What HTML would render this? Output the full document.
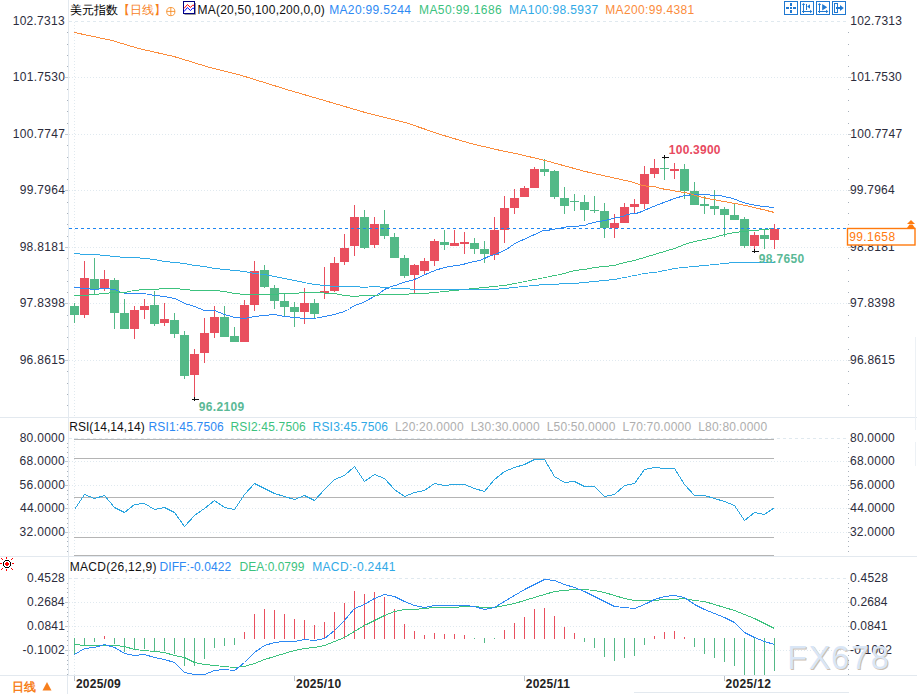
<!DOCTYPE html><html><head><meta charset="utf-8"><style>
html,body{margin:0;padding:0;background:#fff;width:917px;height:694px;overflow:hidden}
svg{display:block;font-family:"Liberation Sans",sans-serif}
</style></head><body>
<svg width="917" height="694" viewBox="0 0 917 694">
<rect width="917" height="694" fill="#fff"/>
<line x1="69" y1="21.5" x2="848" y2="21.5" stroke="#e0e9ef" stroke-width="1" stroke-dasharray="3 3" shape-rendering="crispEdges"/>
<line x1="69" y1="77.5" x2="848" y2="77.5" stroke="#e0e9ef" stroke-width="1" stroke-dasharray="1 2" shape-rendering="crispEdges"/>
<line x1="69" y1="134.5" x2="848" y2="134.5" stroke="#e0e9ef" stroke-width="1" stroke-dasharray="1 2" shape-rendering="crispEdges"/>
<line x1="69" y1="190.5" x2="848" y2="190.5" stroke="#e0e9ef" stroke-width="1" stroke-dasharray="1 2" shape-rendering="crispEdges"/>
<line x1="69" y1="247.5" x2="848" y2="247.5" stroke="#e0e9ef" stroke-width="1" stroke-dasharray="1 2" shape-rendering="crispEdges"/>
<line x1="69" y1="303.5" x2="848" y2="303.5" stroke="#e0e9ef" stroke-width="1" stroke-dasharray="1 2" shape-rendering="crispEdges"/>
<line x1="69" y1="360.5" x2="848" y2="360.5" stroke="#e0e9ef" stroke-width="1" stroke-dasharray="1 2" shape-rendering="crispEdges"/>
<line x1="74.5" y1="22" x2="74.5" y2="416" stroke="#e0e9ef" stroke-width="1" stroke-dasharray="1 2" shape-rendering="crispEdges"/>
<line x1="74.5" y1="438" x2="74.5" y2="555" stroke="#e0e9ef" stroke-width="1" stroke-dasharray="1 2" shape-rendering="crispEdges"/>
<line x1="74.5" y1="578" x2="74.5" y2="675" stroke="#e0e9ef" stroke-width="1" stroke-dasharray="1 2" shape-rendering="crispEdges"/>
<line x1="69" y1="438.5" x2="848" y2="438.5" stroke="#e0e9ef" stroke-width="1" stroke-dasharray="3 3" shape-rendering="crispEdges"/>
<line x1="69" y1="461.5" x2="848" y2="461.5" stroke="#e0e9ef" stroke-width="1" stroke-dasharray="1 2" shape-rendering="crispEdges"/>
<line x1="69" y1="485.5" x2="848" y2="485.5" stroke="#e0e9ef" stroke-width="1" stroke-dasharray="1 2" shape-rendering="crispEdges"/>
<line x1="69" y1="508.5" x2="848" y2="508.5" stroke="#e0e9ef" stroke-width="1" stroke-dasharray="1 2" shape-rendering="crispEdges"/>
<line x1="69" y1="532.5" x2="848" y2="532.5" stroke="#e0e9ef" stroke-width="1" stroke-dasharray="1 2" shape-rendering="crispEdges"/>
<line x1="69" y1="578.5" x2="848" y2="578.5" stroke="#e0e9ef" stroke-width="1" stroke-dasharray="3 3" shape-rendering="crispEdges"/>
<line x1="69" y1="602.5" x2="848" y2="602.5" stroke="#e0e9ef" stroke-width="1" stroke-dasharray="1 2" shape-rendering="crispEdges"/>
<line x1="69" y1="626.5" x2="848" y2="626.5" stroke="#e0e9ef" stroke-width="1" stroke-dasharray="1 2" shape-rendering="crispEdges"/>
<line x1="69" y1="650.5" x2="848" y2="650.5" stroke="#e0e9ef" stroke-width="1" stroke-dasharray="1 2" shape-rendering="crispEdges"/>
<rect x="0" y="417" width="917" height="1" fill="#e3e9ef" shape-rendering="crispEdges"/>
<rect x="0" y="556" width="917" height="1" fill="#e3e9ef" shape-rendering="crispEdges"/>
<rect x="0" y="675" width="917" height="1" fill="#e3e9ef" shape-rendering="crispEdges"/>
<rect x="634" y="692" width="215" height="1" fill="#e3e9ef" shape-rendering="crispEdges"/>
<rect x="68" y="0" width="1" height="675" fill="#e3e9ef" shape-rendering="crispEdges"/>
<rect x="67" y="675" width="1" height="19" fill="#e3e9ef" shape-rendering="crispEdges"/>
<rect x="915" y="337" width="1" height="93" fill="#edf1f5" shape-rendering="crispEdges"/>
<rect x="915" y="442" width="1" height="24" fill="#edf1f5" shape-rendering="crispEdges"/>
<rect x="67" y="32" width="1" height="1" fill="#a9b1bb"/>
<rect x="848" y="32" width="1" height="1" fill="#a9b1bb"/>
<rect x="67" y="44" width="1" height="1" fill="#a9b1bb"/>
<rect x="848" y="44" width="1" height="1" fill="#a9b1bb"/>
<rect x="67" y="55" width="1" height="1" fill="#a9b1bb"/>
<rect x="848" y="55" width="1" height="1" fill="#a9b1bb"/>
<rect x="67" y="66" width="1" height="1" fill="#a9b1bb"/>
<rect x="848" y="66" width="1" height="1" fill="#a9b1bb"/>
<rect x="67" y="89" width="1" height="1" fill="#a9b1bb"/>
<rect x="848" y="89" width="1" height="1" fill="#a9b1bb"/>
<rect x="67" y="100" width="1" height="1" fill="#a9b1bb"/>
<rect x="848" y="100" width="1" height="1" fill="#a9b1bb"/>
<rect x="67" y="111" width="1" height="1" fill="#a9b1bb"/>
<rect x="848" y="111" width="1" height="1" fill="#a9b1bb"/>
<rect x="67" y="123" width="1" height="1" fill="#a9b1bb"/>
<rect x="848" y="123" width="1" height="1" fill="#a9b1bb"/>
<rect x="67" y="145" width="1" height="1" fill="#a9b1bb"/>
<rect x="848" y="145" width="1" height="1" fill="#a9b1bb"/>
<rect x="67" y="157" width="1" height="1" fill="#a9b1bb"/>
<rect x="848" y="157" width="1" height="1" fill="#a9b1bb"/>
<rect x="67" y="168" width="1" height="1" fill="#a9b1bb"/>
<rect x="848" y="168" width="1" height="1" fill="#a9b1bb"/>
<rect x="67" y="179" width="1" height="1" fill="#a9b1bb"/>
<rect x="848" y="179" width="1" height="1" fill="#a9b1bb"/>
<rect x="67" y="202" width="1" height="1" fill="#a9b1bb"/>
<rect x="848" y="202" width="1" height="1" fill="#a9b1bb"/>
<rect x="67" y="213" width="1" height="1" fill="#a9b1bb"/>
<rect x="848" y="213" width="1" height="1" fill="#a9b1bb"/>
<rect x="67" y="224" width="1" height="1" fill="#a9b1bb"/>
<rect x="848" y="224" width="1" height="1" fill="#a9b1bb"/>
<rect x="67" y="236" width="1" height="1" fill="#a9b1bb"/>
<rect x="848" y="236" width="1" height="1" fill="#a9b1bb"/>
<rect x="67" y="258" width="1" height="1" fill="#a9b1bb"/>
<rect x="848" y="258" width="1" height="1" fill="#a9b1bb"/>
<rect x="67" y="270" width="1" height="1" fill="#a9b1bb"/>
<rect x="848" y="270" width="1" height="1" fill="#a9b1bb"/>
<rect x="67" y="281" width="1" height="1" fill="#a9b1bb"/>
<rect x="848" y="281" width="1" height="1" fill="#a9b1bb"/>
<rect x="67" y="292" width="1" height="1" fill="#a9b1bb"/>
<rect x="848" y="292" width="1" height="1" fill="#a9b1bb"/>
<rect x="67" y="315" width="1" height="1" fill="#a9b1bb"/>
<rect x="848" y="315" width="1" height="1" fill="#a9b1bb"/>
<rect x="67" y="326" width="1" height="1" fill="#a9b1bb"/>
<rect x="848" y="326" width="1" height="1" fill="#a9b1bb"/>
<rect x="67" y="337" width="1" height="1" fill="#a9b1bb"/>
<rect x="848" y="337" width="1" height="1" fill="#a9b1bb"/>
<rect x="67" y="349" width="1" height="1" fill="#a9b1bb"/>
<rect x="848" y="349" width="1" height="1" fill="#a9b1bb"/>
<rect x="67" y="371" width="1" height="1" fill="#a9b1bb"/>
<rect x="848" y="371" width="1" height="1" fill="#a9b1bb"/>
<rect x="67" y="383" width="1" height="1" fill="#a9b1bb"/>
<rect x="848" y="383" width="1" height="1" fill="#a9b1bb"/>
<rect x="67" y="394" width="1" height="1" fill="#a9b1bb"/>
<rect x="848" y="394" width="1" height="1" fill="#a9b1bb"/>
<rect x="67" y="405" width="1" height="1" fill="#a9b1bb"/>
<rect x="848" y="405" width="1" height="1" fill="#a9b1bb"/>
<rect x="65" y="77" width="3" height="1" fill="#c4cad0"/>
<rect x="848" y="77" width="3" height="1" fill="#c4cad0"/>
<rect x="65" y="134" width="3" height="1" fill="#c4cad0"/>
<rect x="848" y="134" width="3" height="1" fill="#c4cad0"/>
<rect x="65" y="190" width="3" height="1" fill="#c4cad0"/>
<rect x="848" y="190" width="3" height="1" fill="#c4cad0"/>
<rect x="65" y="247" width="3" height="1" fill="#c4cad0"/>
<rect x="848" y="247" width="3" height="1" fill="#c4cad0"/>
<rect x="65" y="303" width="3" height="1" fill="#c4cad0"/>
<rect x="848" y="303" width="3" height="1" fill="#c4cad0"/>
<rect x="65" y="360" width="3" height="1" fill="#c4cad0"/>
<rect x="848" y="360" width="3" height="1" fill="#c4cad0"/>
<rect x="67" y="443" width="1" height="1" fill="#a9b1bb"/>
<rect x="848" y="443" width="1" height="1" fill="#a9b1bb"/>
<rect x="67" y="447" width="1" height="1" fill="#a9b1bb"/>
<rect x="848" y="447" width="1" height="1" fill="#a9b1bb"/>
<rect x="67" y="452" width="1" height="1" fill="#a9b1bb"/>
<rect x="848" y="452" width="1" height="1" fill="#a9b1bb"/>
<rect x="67" y="457" width="1" height="1" fill="#a9b1bb"/>
<rect x="848" y="457" width="1" height="1" fill="#a9b1bb"/>
<rect x="67" y="466" width="1" height="1" fill="#a9b1bb"/>
<rect x="848" y="466" width="1" height="1" fill="#a9b1bb"/>
<rect x="67" y="471" width="1" height="1" fill="#a9b1bb"/>
<rect x="848" y="471" width="1" height="1" fill="#a9b1bb"/>
<rect x="67" y="476" width="1" height="1" fill="#a9b1bb"/>
<rect x="848" y="476" width="1" height="1" fill="#a9b1bb"/>
<rect x="67" y="480" width="1" height="1" fill="#a9b1bb"/>
<rect x="848" y="480" width="1" height="1" fill="#a9b1bb"/>
<rect x="67" y="490" width="1" height="1" fill="#a9b1bb"/>
<rect x="848" y="490" width="1" height="1" fill="#a9b1bb"/>
<rect x="67" y="494" width="1" height="1" fill="#a9b1bb"/>
<rect x="848" y="494" width="1" height="1" fill="#a9b1bb"/>
<rect x="67" y="499" width="1" height="1" fill="#a9b1bb"/>
<rect x="848" y="499" width="1" height="1" fill="#a9b1bb"/>
<rect x="67" y="504" width="1" height="1" fill="#a9b1bb"/>
<rect x="848" y="504" width="1" height="1" fill="#a9b1bb"/>
<rect x="67" y="513" width="1" height="1" fill="#a9b1bb"/>
<rect x="848" y="513" width="1" height="1" fill="#a9b1bb"/>
<rect x="67" y="518" width="1" height="1" fill="#a9b1bb"/>
<rect x="848" y="518" width="1" height="1" fill="#a9b1bb"/>
<rect x="67" y="523" width="1" height="1" fill="#a9b1bb"/>
<rect x="848" y="523" width="1" height="1" fill="#a9b1bb"/>
<rect x="67" y="527" width="1" height="1" fill="#a9b1bb"/>
<rect x="848" y="527" width="1" height="1" fill="#a9b1bb"/>
<rect x="67" y="537" width="1" height="1" fill="#a9b1bb"/>
<rect x="848" y="537" width="1" height="1" fill="#a9b1bb"/>
<rect x="67" y="541" width="1" height="1" fill="#a9b1bb"/>
<rect x="848" y="541" width="1" height="1" fill="#a9b1bb"/>
<rect x="67" y="546" width="1" height="1" fill="#a9b1bb"/>
<rect x="848" y="546" width="1" height="1" fill="#a9b1bb"/>
<rect x="67" y="551" width="1" height="1" fill="#a9b1bb"/>
<rect x="848" y="551" width="1" height="1" fill="#a9b1bb"/>
<rect x="65" y="461" width="3" height="1" fill="#c4cad0"/>
<rect x="848" y="461" width="3" height="1" fill="#c4cad0"/>
<rect x="65" y="485" width="3" height="1" fill="#c4cad0"/>
<rect x="848" y="485" width="3" height="1" fill="#c4cad0"/>
<rect x="65" y="508" width="3" height="1" fill="#c4cad0"/>
<rect x="848" y="508" width="3" height="1" fill="#c4cad0"/>
<rect x="65" y="532" width="3" height="1" fill="#c4cad0"/>
<rect x="848" y="532" width="3" height="1" fill="#c4cad0"/>
<rect x="67" y="583" width="1" height="1" fill="#a9b1bb"/>
<rect x="848" y="583" width="1" height="1" fill="#a9b1bb"/>
<rect x="67" y="588" width="1" height="1" fill="#a9b1bb"/>
<rect x="848" y="588" width="1" height="1" fill="#a9b1bb"/>
<rect x="67" y="592" width="1" height="1" fill="#a9b1bb"/>
<rect x="848" y="592" width="1" height="1" fill="#a9b1bb"/>
<rect x="67" y="597" width="1" height="1" fill="#a9b1bb"/>
<rect x="848" y="597" width="1" height="1" fill="#a9b1bb"/>
<rect x="67" y="607" width="1" height="1" fill="#a9b1bb"/>
<rect x="848" y="607" width="1" height="1" fill="#a9b1bb"/>
<rect x="67" y="612" width="1" height="1" fill="#a9b1bb"/>
<rect x="848" y="612" width="1" height="1" fill="#a9b1bb"/>
<rect x="67" y="616" width="1" height="1" fill="#a9b1bb"/>
<rect x="848" y="616" width="1" height="1" fill="#a9b1bb"/>
<rect x="67" y="621" width="1" height="1" fill="#a9b1bb"/>
<rect x="848" y="621" width="1" height="1" fill="#a9b1bb"/>
<rect x="67" y="631" width="1" height="1" fill="#a9b1bb"/>
<rect x="848" y="631" width="1" height="1" fill="#a9b1bb"/>
<rect x="67" y="636" width="1" height="1" fill="#a9b1bb"/>
<rect x="848" y="636" width="1" height="1" fill="#a9b1bb"/>
<rect x="67" y="640" width="1" height="1" fill="#a9b1bb"/>
<rect x="848" y="640" width="1" height="1" fill="#a9b1bb"/>
<rect x="67" y="645" width="1" height="1" fill="#a9b1bb"/>
<rect x="848" y="645" width="1" height="1" fill="#a9b1bb"/>
<rect x="67" y="655" width="1" height="1" fill="#a9b1bb"/>
<rect x="848" y="655" width="1" height="1" fill="#a9b1bb"/>
<rect x="67" y="660" width="1" height="1" fill="#a9b1bb"/>
<rect x="848" y="660" width="1" height="1" fill="#a9b1bb"/>
<rect x="67" y="664" width="1" height="1" fill="#a9b1bb"/>
<rect x="848" y="664" width="1" height="1" fill="#a9b1bb"/>
<rect x="67" y="669" width="1" height="1" fill="#a9b1bb"/>
<rect x="848" y="669" width="1" height="1" fill="#a9b1bb"/>
<rect x="67" y="674" width="1" height="1" fill="#a9b1bb"/>
<rect x="848" y="674" width="1" height="1" fill="#a9b1bb"/>
<rect x="65" y="602" width="3" height="1" fill="#c4cad0"/>
<rect x="848" y="602" width="3" height="1" fill="#c4cad0"/>
<rect x="65" y="626" width="3" height="1" fill="#c4cad0"/>
<rect x="848" y="626" width="3" height="1" fill="#c4cad0"/>
<rect x="65" y="650" width="3" height="1" fill="#c4cad0"/>
<rect x="848" y="650" width="3" height="1" fill="#c4cad0"/>
<rect x="74" y="439" width="700" height="1" fill="#b4b4b4" shape-rendering="crispEdges"/>
<rect x="74" y="458" width="700" height="1" fill="#b4b4b4" shape-rendering="crispEdges"/>
<rect x="74" y="497" width="700" height="1" fill="#b4b4b4" shape-rendering="crispEdges"/>
<rect x="74" y="537" width="700" height="1" fill="#b4b4b4" shape-rendering="crispEdges"/>
<rect x="74" y="555" width="700" height="1" fill="#b4b4b4" shape-rendering="crispEdges"/>
<g shape-rendering="crispEdges">
<rect x="74" y="303" width="1" height="20" fill="#53b987"/>
<rect x="70" y="306" width="9" height="9" fill="#53b987"/>
<rect x="84" y="261" width="1" height="57" fill="#e94f5e"/>
<rect x="80" y="278" width="9" height="37" fill="#e94f5e"/>
<rect x="94" y="258" width="1" height="36" fill="#53b987"/>
<rect x="90" y="279" width="9" height="10" fill="#53b987"/>
<rect x="104" y="270" width="1" height="21" fill="#e94f5e"/>
<rect x="100" y="279" width="9" height="9" fill="#e94f5e"/>
<rect x="114" y="278" width="1" height="51" fill="#53b987"/>
<rect x="110" y="280" width="9" height="33" fill="#53b987"/>
<rect x="124" y="299" width="1" height="30" fill="#53b987"/>
<rect x="120" y="313" width="9" height="16" fill="#53b987"/>
<rect x="134" y="306" width="1" height="33" fill="#e94f5e"/>
<rect x="130" y="310" width="9" height="19" fill="#e94f5e"/>
<rect x="144" y="299" width="1" height="20" fill="#e94f5e"/>
<rect x="140" y="306" width="9" height="4" fill="#e94f5e"/>
<rect x="154" y="291" width="1" height="35" fill="#53b987"/>
<rect x="150" y="305" width="9" height="19" fill="#53b987"/>
<rect x="164" y="303" width="1" height="23" fill="#e94f5e"/>
<rect x="160" y="319" width="9" height="4" fill="#e94f5e"/>
<rect x="174" y="313" width="1" height="25" fill="#53b987"/>
<rect x="170" y="320" width="9" height="14" fill="#53b987"/>
<rect x="184" y="331" width="1" height="48" fill="#53b987"/>
<rect x="180" y="335" width="9" height="41" fill="#53b987"/>
<rect x="194" y="349" width="1" height="48" fill="#e94f5e"/>
<rect x="190" y="354" width="9" height="21" fill="#e94f5e"/>
<rect x="204" y="318" width="1" height="45" fill="#e94f5e"/>
<rect x="200" y="333" width="9" height="20" fill="#e94f5e"/>
<rect x="214" y="306" width="1" height="32" fill="#e94f5e"/>
<rect x="210" y="317" width="9" height="16" fill="#e94f5e"/>
<rect x="224" y="306" width="1" height="31" fill="#53b987"/>
<rect x="220" y="317" width="9" height="20" fill="#53b987"/>
<rect x="234" y="327" width="1" height="15" fill="#53b987"/>
<rect x="230" y="336" width="9" height="6" fill="#53b987"/>
<rect x="244" y="300" width="1" height="42" fill="#e94f5e"/>
<rect x="240" y="305" width="9" height="37" fill="#e94f5e"/>
<rect x="254" y="261" width="1" height="50" fill="#e94f5e"/>
<rect x="250" y="271" width="9" height="34" fill="#e94f5e"/>
<rect x="264" y="265" width="1" height="23" fill="#53b987"/>
<rect x="260" y="270" width="9" height="17" fill="#53b987"/>
<rect x="274" y="285" width="1" height="24" fill="#53b987"/>
<rect x="270" y="288" width="9" height="13" fill="#53b987"/>
<rect x="284" y="293" width="1" height="24" fill="#53b987"/>
<rect x="280" y="301" width="9" height="6" fill="#53b987"/>
<rect x="294" y="302" width="1" height="25" fill="#53b987"/>
<rect x="290" y="307" width="9" height="5" fill="#53b987"/>
<rect x="304" y="288" width="1" height="36" fill="#e94f5e"/>
<rect x="300" y="303" width="9" height="9" fill="#e94f5e"/>
<rect x="314" y="299" width="1" height="19" fill="#53b987"/>
<rect x="310" y="303" width="9" height="11" fill="#53b987"/>
<rect x="324" y="267" width="1" height="32" fill="#e94f5e"/>
<rect x="320" y="291" width="9" height="2" fill="#e94f5e"/>
<rect x="334" y="257" width="1" height="35" fill="#e94f5e"/>
<rect x="330" y="263" width="9" height="28" fill="#e94f5e"/>
<rect x="344" y="234" width="1" height="31" fill="#e94f5e"/>
<rect x="340" y="248" width="9" height="14" fill="#e94f5e"/>
<rect x="354" y="205" width="1" height="51" fill="#e94f5e"/>
<rect x="350" y="217" width="9" height="29" fill="#e94f5e"/>
<rect x="364" y="210" width="1" height="39" fill="#53b987"/>
<rect x="360" y="217" width="9" height="31" fill="#53b987"/>
<rect x="374" y="217" width="1" height="31" fill="#e94f5e"/>
<rect x="370" y="224" width="9" height="21" fill="#e94f5e"/>
<rect x="384" y="210" width="1" height="29" fill="#53b987"/>
<rect x="380" y="224" width="9" height="12" fill="#53b987"/>
<rect x="394" y="233" width="1" height="25" fill="#53b987"/>
<rect x="390" y="237" width="9" height="21" fill="#53b987"/>
<rect x="404" y="255" width="1" height="23" fill="#53b987"/>
<rect x="400" y="258" width="9" height="18" fill="#53b987"/>
<rect x="414" y="264" width="1" height="29" fill="#e94f5e"/>
<rect x="410" y="265" width="9" height="10" fill="#e94f5e"/>
<rect x="424" y="258" width="1" height="16" fill="#e94f5e"/>
<rect x="420" y="261" width="9" height="10" fill="#e94f5e"/>
<rect x="434" y="239" width="1" height="27" fill="#e94f5e"/>
<rect x="430" y="241" width="9" height="20" fill="#e94f5e"/>
<rect x="444" y="230" width="1" height="20" fill="#53b987"/>
<rect x="440" y="242" width="9" height="3" fill="#53b987"/>
<rect x="454" y="230" width="1" height="16" fill="#e94f5e"/>
<rect x="450" y="243" width="9" height="3" fill="#e94f5e"/>
<rect x="464" y="232" width="1" height="22" fill="#e94f5e"/>
<rect x="460" y="242" width="9" height="2" fill="#e94f5e"/>
<rect x="474" y="238" width="1" height="16" fill="#53b987"/>
<rect x="470" y="243" width="9" height="6" fill="#53b987"/>
<rect x="484" y="241" width="1" height="22" fill="#53b987"/>
<rect x="480" y="249" width="9" height="5" fill="#53b987"/>
<rect x="494" y="217" width="1" height="43" fill="#e94f5e"/>
<rect x="490" y="230" width="9" height="25" fill="#e94f5e"/>
<rect x="504" y="196" width="1" height="47" fill="#e94f5e"/>
<rect x="500" y="208" width="9" height="22" fill="#e94f5e"/>
<rect x="514" y="189" width="1" height="25" fill="#e94f5e"/>
<rect x="510" y="198" width="9" height="10" fill="#e94f5e"/>
<rect x="524" y="186" width="1" height="11" fill="#e94f5e"/>
<rect x="520" y="188" width="9" height="9" fill="#e94f5e"/>
<rect x="534" y="167" width="1" height="21" fill="#e94f5e"/>
<rect x="530" y="169" width="9" height="19" fill="#e94f5e"/>
<rect x="544" y="159" width="1" height="17" fill="#53b987"/>
<rect x="540" y="169" width="9" height="3" fill="#53b987"/>
<rect x="554" y="170" width="1" height="29" fill="#53b987"/>
<rect x="550" y="171" width="9" height="26" fill="#53b987"/>
<rect x="564" y="187" width="1" height="27" fill="#53b987"/>
<rect x="560" y="198" width="9" height="8" fill="#53b987"/>
<rect x="574" y="194" width="1" height="17" fill="#53b987"/>
<rect x="570" y="201" width="9" height="1" fill="#53b987"/>
<rect x="584" y="195" width="1" height="26" fill="#53b987"/>
<rect x="580" y="202" width="9" height="8" fill="#53b987"/>
<rect x="594" y="196" width="1" height="17" fill="#53b987"/>
<rect x="590" y="210" width="9" height="1" fill="#53b987"/>
<rect x="604" y="203" width="1" height="35" fill="#53b987"/>
<rect x="600" y="211" width="9" height="17" fill="#53b987"/>
<rect x="614" y="214" width="1" height="24" fill="#e94f5e"/>
<rect x="610" y="223" width="9" height="5" fill="#e94f5e"/>
<rect x="624" y="203" width="1" height="20" fill="#e94f5e"/>
<rect x="620" y="207" width="9" height="16" fill="#e94f5e"/>
<rect x="634" y="199" width="1" height="14" fill="#e94f5e"/>
<rect x="630" y="204" width="9" height="3" fill="#e94f5e"/>
<rect x="644" y="166" width="1" height="43" fill="#e94f5e"/>
<rect x="640" y="174" width="9" height="30" fill="#e94f5e"/>
<rect x="654" y="159" width="1" height="19" fill="#e94f5e"/>
<rect x="650" y="168" width="9" height="6" fill="#e94f5e"/>
<rect x="664" y="159" width="1" height="21" fill="#53b987"/>
<rect x="660" y="168" width="9" height="1" fill="#53b987"/>
<rect x="674" y="163" width="1" height="16" fill="#e94f5e"/>
<rect x="670" y="169" width="9" height="2" fill="#e94f5e"/>
<rect x="684" y="164" width="1" height="35" fill="#53b987"/>
<rect x="680" y="169" width="9" height="22" fill="#53b987"/>
<rect x="694" y="182" width="1" height="23" fill="#53b987"/>
<rect x="690" y="191" width="9" height="14" fill="#53b987"/>
<rect x="704" y="196" width="1" height="18" fill="#53b987"/>
<rect x="700" y="204" width="9" height="2" fill="#53b987"/>
<rect x="714" y="190" width="1" height="25" fill="#53b987"/>
<rect x="710" y="206" width="9" height="3" fill="#53b987"/>
<rect x="724" y="207" width="1" height="30" fill="#53b987"/>
<rect x="720" y="209" width="9" height="6" fill="#53b987"/>
<rect x="734" y="204" width="1" height="16" fill="#53b987"/>
<rect x="730" y="215" width="9" height="5" fill="#53b987"/>
<rect x="744" y="217" width="1" height="31" fill="#53b987"/>
<rect x="740" y="219" width="9" height="27" fill="#53b987"/>
<rect x="754" y="232" width="1" height="17" fill="#e94f5e"/>
<rect x="750" y="235" width="9" height="11" fill="#e94f5e"/>
<rect x="764" y="229" width="1" height="20" fill="#53b987"/>
<rect x="760" y="235" width="9" height="4" fill="#53b987"/>
<rect x="774" y="224" width="1" height="25" fill="#e94f5e"/>
<rect x="770" y="229" width="9" height="11" fill="#e94f5e"/>
</g>
<g shape-rendering="crispEdges">
<rect x="74" y="287" width="6" height="1" fill="#2d89f3"/>
<rect x="80" y="288" width="10" height="1" fill="#2d89f3"/>
<rect x="90" y="289" width="9" height="1" fill="#2d89f3"/>
<rect x="99" y="288" width="11" height="1" fill="#2d89f3"/>
<rect x="110" y="289" width="6" height="1" fill="#2d89f3"/>
<rect x="116" y="290" width="2" height="1" fill="#2d89f3"/>
<rect x="119" y="291" width="1" height="1" fill="#2d89f3"/>
<rect x="121" y="292" width="2" height="1" fill="#2d89f3"/>
<rect x="124" y="293" width="22" height="1" fill="#2d89f3"/>
<rect x="147" y="294" width="5" height="1" fill="#2d89f3"/>
<rect x="152" y="295" width="8" height="1" fill="#2d89f3"/>
<rect x="160" y="296" width="7" height="1" fill="#2d89f3"/>
<rect x="167" y="297" width="5" height="1" fill="#2d89f3"/>
<rect x="172" y="298" width="4" height="1" fill="#2d89f3"/>
<rect x="176" y="299" width="2" height="1" fill="#2d89f3"/>
<rect x="178" y="300" width="2" height="1" fill="#2d89f3"/>
<rect x="180" y="301" width="2" height="1" fill="#2d89f3"/>
<rect x="182" y="302" width="2" height="1" fill="#2d89f3"/>
<rect x="184" y="303" width="2" height="1" fill="#2d89f3"/>
<rect x="186" y="304" width="4" height="1" fill="#2d89f3"/>
<rect x="190" y="305" width="3" height="1" fill="#2d89f3"/>
<rect x="193" y="306" width="3" height="1" fill="#2d89f3"/>
<rect x="196" y="307" width="2" height="1" fill="#2d89f3"/>
<rect x="198" y="308" width="3" height="1" fill="#2d89f3"/>
<rect x="201" y="309" width="2" height="1" fill="#2d89f3"/>
<rect x="203" y="310" width="13" height="1" fill="#2d89f3"/>
<rect x="216" y="311" width="2" height="1" fill="#2d89f3"/>
<rect x="218" y="312" width="3" height="1" fill="#2d89f3"/>
<rect x="221" y="313" width="2" height="1" fill="#2d89f3"/>
<rect x="223" y="314" width="3" height="1" fill="#2d89f3"/>
<rect x="226" y="315" width="4" height="1" fill="#2d89f3"/>
<rect x="230" y="316" width="3" height="1" fill="#2d89f3"/>
<rect x="233" y="317" width="7" height="1" fill="#2d89f3"/>
<rect x="240" y="318" width="7" height="1" fill="#2d89f3"/>
<rect x="247" y="317" width="5" height="1" fill="#2d89f3"/>
<rect x="252" y="316" width="7" height="1" fill="#2d89f3"/>
<rect x="259" y="315" width="10" height="1" fill="#2d89f3"/>
<rect x="269" y="314" width="8" height="1" fill="#2d89f3"/>
<rect x="277" y="315" width="5" height="1" fill="#2d89f3"/>
<rect x="282" y="316" width="8" height="1" fill="#2d89f3"/>
<rect x="290" y="317" width="10" height="1" fill="#2d89f3"/>
<rect x="300" y="318" width="16" height="1" fill="#2d89f3"/>
<rect x="317" y="317" width="5" height="1" fill="#2d89f3"/>
<rect x="322" y="316" width="5" height="1" fill="#2d89f3"/>
<rect x="327" y="315" width="5" height="1" fill="#2d89f3"/>
<rect x="332" y="314" width="4" height="1" fill="#2d89f3"/>
<rect x="336" y="313" width="3" height="1" fill="#2d89f3"/>
<rect x="339" y="312" width="4" height="1" fill="#2d89f3"/>
<rect x="343" y="311" width="2" height="1" fill="#2d89f3"/>
<rect x="345" y="310" width="2" height="1" fill="#2d89f3"/>
<rect x="348" y="309" width="1" height="1" fill="#2d89f3"/>
<rect x="350" y="308" width="1" height="1" fill="#2d89f3"/>
<rect x="350" y="307" width="2" height="1" fill="#2d89f3"/>
<rect x="352" y="306" width="2" height="1" fill="#2d89f3"/>
<rect x="354" y="305" width="2" height="1" fill="#2d89f3"/>
<rect x="356" y="304" width="3" height="1" fill="#2d89f3"/>
<rect x="359" y="303" width="1" height="1" fill="#2d89f3"/>
</g>
<polyline points="360.5,303.5 363.0,302.5 376.2,295.5 386.2,288.5 388.0,288.5 391.0,286.5 392.8,286.5 393.2,285.5 396.0,285.5 400.0,283.5 414.4,279.5 425.3,274.5 434.9,270.5 441.0,268.5 448.9,266.5 456.7,265.5 462.8,264.5 469.8,262.5 480.0,260.5 488.7,256.5 497.5,253.5 506.2,249.5 514.9,243.5 523.6,239.5 532.4,235.5 541.1,231.5 543.7,230.5 549.0,230.5 549.8,229.5 560.0,228.5 563.0,227.5 569.1,226.5 578.7,226.5 579.6,225.5 585.7,225.5 586.5,224.5 593.5,222.5 598.8,221.5 604.9,220.5 612.7,218.5 617.1,217.5 622.3,216.5 627.6,214.5 632.8,213.5 636.0,213.5 642.1,211.5 646.5,209.5 650.8,207.5 656.1,205.5 661.3,203.5 666.5,201.5 671.8,199.5 677.0,197.5 682.2,196.5 683.6,195.5 689.2,195.5 690.1,194.5 709.3,194.5 710.2,195.5 716.0,195.5 719.5,195.5 732.8,198.5 746.0,203.5 762.6,206.5 774.5,207.5" fill="none" stroke="#2d89f3" stroke-width="1" stroke-linejoin="round" shape-rendering="crispEdges"/>
<g shape-rendering="crispEdges">
<rect x="74" y="295" width="15" height="1" fill="#3cc27e"/>
<rect x="89" y="294" width="10" height="1" fill="#3cc27e"/>
<rect x="99" y="293" width="10" height="1" fill="#3cc27e"/>
<rect x="109" y="292" width="18" height="1" fill="#3cc27e"/>
<rect x="127" y="291" width="4" height="1" fill="#3cc27e"/>
<rect x="132" y="290" width="7" height="1" fill="#3cc27e"/>
<rect x="139" y="289" width="20" height="1" fill="#3cc27e"/>
<rect x="159" y="288" width="21" height="1" fill="#3cc27e"/>
<rect x="180" y="289" width="10" height="1" fill="#3cc27e"/>
<rect x="190" y="290" width="30" height="1" fill="#3cc27e"/>
<rect x="220" y="291" width="7" height="1" fill="#3cc27e"/>
<rect x="227" y="292" width="5" height="1" fill="#3cc27e"/>
<rect x="232" y="293" width="8" height="1" fill="#3cc27e"/>
<rect x="240" y="294" width="39" height="1" fill="#3cc27e"/>
<rect x="279" y="293" width="20" height="1" fill="#3cc27e"/>
<rect x="299" y="292" width="25" height="1" fill="#3cc27e"/>
<rect x="324" y="293" width="13" height="1" fill="#3cc27e"/>
<rect x="337" y="294" width="5" height="1" fill="#3cc27e"/>
<rect x="342" y="295" width="8" height="1" fill="#3cc27e"/>
<rect x="350" y="296" width="9" height="1" fill="#3cc27e"/>
<rect x="359" y="295" width="20" height="1" fill="#3cc27e"/>
<rect x="379" y="294" width="30" height="1" fill="#3cc27e"/>
<rect x="409" y="293" width="20" height="1" fill="#3cc27e"/>
<rect x="429" y="292" width="10" height="1" fill="#3cc27e"/>
<rect x="440" y="291" width="9" height="1" fill="#3cc27e"/>
<rect x="449" y="290" width="10" height="1" fill="#3cc27e"/>
<rect x="459" y="289" width="10" height="1" fill="#3cc27e"/>
<rect x="469" y="288" width="10" height="1" fill="#3cc27e"/>
<rect x="479" y="287" width="10" height="1" fill="#3cc27e"/>
<rect x="489" y="286" width="9" height="1" fill="#3cc27e"/>
<rect x="499" y="285" width="8" height="1" fill="#3cc27e"/>
<rect x="507" y="284" width="5" height="1" fill="#3cc27e"/>
<rect x="512" y="283" width="5" height="1" fill="#3cc27e"/>
<rect x="518" y="282" width="4" height="1" fill="#3cc27e"/>
<rect x="523" y="281" width="4" height="1" fill="#3cc27e"/>
<rect x="528" y="280" width="4" height="1" fill="#3cc27e"/>
<rect x="532" y="279" width="5" height="1" fill="#3cc27e"/>
<rect x="538" y="278" width="4" height="1" fill="#3cc27e"/>
<rect x="543" y="277" width="4" height="1" fill="#3cc27e"/>
<rect x="548" y="276" width="4" height="1" fill="#3cc27e"/>
<rect x="552" y="275" width="5" height="1" fill="#3cc27e"/>
<rect x="558" y="274" width="4" height="1" fill="#3cc27e"/>
<rect x="562" y="273" width="4" height="1" fill="#3cc27e"/>
<rect x="566" y="272" width="3" height="1" fill="#3cc27e"/>
<rect x="569" y="271" width="4" height="1" fill="#3cc27e"/>
<rect x="573" y="270" width="6" height="1" fill="#3cc27e"/>
<rect x="579" y="269" width="8" height="1" fill="#3cc27e"/>
<rect x="587" y="268" width="5" height="1" fill="#3cc27e"/>
<rect x="592" y="267" width="7" height="1" fill="#3cc27e"/>
<rect x="599" y="266" width="10" height="1" fill="#3cc27e"/>
<rect x="609" y="265" width="7" height="1" fill="#3cc27e"/>
<rect x="616" y="264" width="3" height="1" fill="#3cc27e"/>
<rect x="619" y="263" width="4" height="1" fill="#3cc27e"/>
<rect x="623" y="262" width="4" height="1" fill="#3cc27e"/>
<rect x="627" y="261" width="5" height="1" fill="#3cc27e"/>
<rect x="632" y="260" width="4" height="1" fill="#3cc27e"/>
<rect x="636" y="259" width="3" height="1" fill="#3cc27e"/>
<rect x="639" y="258" width="4" height="1" fill="#3cc27e"/>
<rect x="643" y="257" width="3" height="1" fill="#3cc27e"/>
<rect x="646" y="256" width="3" height="1" fill="#3cc27e"/>
<rect x="649" y="255" width="4" height="1" fill="#3cc27e"/>
<rect x="653" y="254" width="3" height="1" fill="#3cc27e"/>
<rect x="656" y="253" width="3" height="1" fill="#3cc27e"/>
<rect x="659" y="252" width="4" height="1" fill="#3cc27e"/>
<rect x="663" y="251" width="3" height="1" fill="#3cc27e"/>
<rect x="666" y="250" width="3" height="1" fill="#3cc27e"/>
<rect x="669" y="249" width="4" height="1" fill="#3cc27e"/>
<rect x="673" y="248" width="3" height="1" fill="#3cc27e"/>
<rect x="676" y="247" width="2" height="1" fill="#3cc27e"/>
<rect x="678" y="246" width="3" height="1" fill="#3cc27e"/>
<rect x="681" y="245" width="2" height="1" fill="#3cc27e"/>
<rect x="683" y="244" width="3" height="1" fill="#3cc27e"/>
<rect x="686" y="243" width="3" height="1" fill="#3cc27e"/>
<rect x="689" y="242" width="4" height="1" fill="#3cc27e"/>
<rect x="693" y="241" width="4" height="1" fill="#3cc27e"/>
<rect x="697" y="240" width="5" height="1" fill="#3cc27e"/>
<rect x="702" y="239" width="5" height="1" fill="#3cc27e"/>
<rect x="707" y="238" width="5" height="1" fill="#3cc27e"/>
<rect x="712" y="237" width="4" height="1" fill="#3cc27e"/>
<rect x="716" y="236" width="3" height="1" fill="#3cc27e"/>
<rect x="719" y="235" width="4" height="1" fill="#3cc27e"/>
<rect x="723" y="234" width="4" height="1" fill="#3cc27e"/>
<rect x="727" y="233" width="5" height="1" fill="#3cc27e"/>
<rect x="732" y="232" width="7" height="1" fill="#3cc27e"/>
<rect x="739" y="231" width="9" height="1" fill="#3cc27e"/>
<rect x="749" y="230" width="10" height="1" fill="#3cc27e"/>
<rect x="759" y="229" width="10" height="1" fill="#3cc27e"/>
<rect x="769" y="228" width="5" height="1" fill="#3cc27e"/>
</g>
<g shape-rendering="crispEdges">
<rect x="74" y="253" width="6" height="1" fill="#30a9e6"/>
<rect x="80" y="254" width="20" height="1" fill="#30a9e6"/>
<rect x="100" y="255" width="10" height="1" fill="#30a9e6"/>
<rect x="110" y="256" width="10" height="1" fill="#30a9e6"/>
<rect x="120" y="257" width="20" height="1" fill="#30a9e6"/>
<rect x="140" y="258" width="10" height="1" fill="#30a9e6"/>
<rect x="150" y="259" width="7" height="1" fill="#30a9e6"/>
<rect x="157" y="260" width="5" height="1" fill="#30a9e6"/>
<rect x="162" y="261" width="8" height="1" fill="#30a9e6"/>
<rect x="170" y="262" width="10" height="1" fill="#30a9e6"/>
<rect x="180" y="263" width="7" height="1" fill="#30a9e6"/>
<rect x="187" y="264" width="5" height="1" fill="#30a9e6"/>
<rect x="192" y="265" width="8" height="1" fill="#30a9e6"/>
<rect x="200" y="266" width="7" height="1" fill="#30a9e6"/>
<rect x="207" y="267" width="5" height="1" fill="#30a9e6"/>
<rect x="212" y="268" width="8" height="1" fill="#30a9e6"/>
<rect x="220" y="269" width="10" height="1" fill="#30a9e6"/>
<rect x="230" y="270" width="10" height="1" fill="#30a9e6"/>
<rect x="240" y="271" width="7" height="1" fill="#30a9e6"/>
<rect x="247" y="272" width="5" height="1" fill="#30a9e6"/>
<rect x="252" y="273" width="7" height="1" fill="#30a9e6"/>
<rect x="260" y="274" width="7" height="1" fill="#30a9e6"/>
<rect x="267" y="275" width="5" height="1" fill="#30a9e6"/>
<rect x="272" y="276" width="5" height="1" fill="#30a9e6"/>
<rect x="277" y="277" width="5" height="1" fill="#30a9e6"/>
<rect x="282" y="278" width="5" height="1" fill="#30a9e6"/>
<rect x="287" y="279" width="5" height="1" fill="#30a9e6"/>
<rect x="292" y="280" width="5" height="1" fill="#30a9e6"/>
<rect x="297" y="281" width="5" height="1" fill="#30a9e6"/>
<rect x="302" y="282" width="4" height="1" fill="#30a9e6"/>
<rect x="307" y="283" width="5" height="1" fill="#30a9e6"/>
<rect x="312" y="284" width="8" height="1" fill="#30a9e6"/>
<rect x="320" y="285" width="10" height="1" fill="#30a9e6"/>
<rect x="330" y="286" width="30" height="1" fill="#30a9e6"/>
<rect x="360" y="287" width="8" height="1" fill="#30a9e6"/>
<rect x="369" y="286" width="11" height="1" fill="#30a9e6"/>
<rect x="380" y="287" width="10" height="1" fill="#30a9e6"/>
<rect x="391" y="288" width="19" height="1" fill="#30a9e6"/>
<rect x="410" y="289" width="89" height="1" fill="#30a9e6"/>
<rect x="499" y="288" width="10" height="1" fill="#30a9e6"/>
<rect x="509" y="287" width="9" height="1" fill="#30a9e6"/>
<rect x="519" y="286" width="9" height="1" fill="#30a9e6"/>
<rect x="529" y="285" width="10" height="1" fill="#30a9e6"/>
<rect x="539" y="284" width="20" height="1" fill="#30a9e6"/>
<rect x="559" y="283" width="20" height="1" fill="#30a9e6"/>
<rect x="579" y="282" width="10" height="1" fill="#30a9e6"/>
<rect x="589" y="281" width="10" height="1" fill="#30a9e6"/>
<rect x="599" y="280" width="10" height="1" fill="#30a9e6"/>
<rect x="609" y="279" width="8" height="1" fill="#30a9e6"/>
<rect x="617" y="278" width="4" height="1" fill="#30a9e6"/>
<rect x="622" y="277" width="5" height="1" fill="#30a9e6"/>
<rect x="628" y="276" width="3" height="1" fill="#30a9e6"/>
<rect x="632" y="275" width="5" height="1" fill="#30a9e6"/>
<rect x="638" y="274" width="3" height="1" fill="#30a9e6"/>
<rect x="642" y="273" width="6" height="1" fill="#30a9e6"/>
<rect x="649" y="272" width="8" height="1" fill="#30a9e6"/>
<rect x="658" y="271" width="4" height="1" fill="#30a9e6"/>
<rect x="662" y="270" width="5" height="1" fill="#30a9e6"/>
<rect x="668" y="269" width="4" height="1" fill="#30a9e6"/>
<rect x="672" y="268" width="6" height="1" fill="#30a9e6"/>
<rect x="679" y="267" width="9" height="1" fill="#30a9e6"/>
<rect x="689" y="266" width="10" height="1" fill="#30a9e6"/>
<rect x="699" y="265" width="10" height="1" fill="#30a9e6"/>
<rect x="710" y="264" width="9" height="1" fill="#30a9e6"/>
<rect x="720" y="263" width="9" height="1" fill="#30a9e6"/>
<rect x="729" y="262" width="45" height="1" fill="#30a9e6"/>
</g>
<polyline points="74.5,32.5 112.0,40.5 138.7,48.5 173.9,56.5 206.5,66.5 241.6,75.5 290.0,90.5 317.6,98.5 365.2,112.5 405.4,122.5 440.5,134.5 470.6,143.5 500.7,150.5 520.0,154.5 545.1,160.5 585.2,171.5 630.0,181.5 643.0,185.5 649.0,186.5 655.0,186.5 660.4,188.5 666.5,189.5 672.6,190.5 677.9,191.5 684.0,192.5 690.0,193.5 695.0,195.5 698.8,196.5 703.2,197.5 707.6,198.5 712.8,199.5 729.5,202.5 746.0,205.5 762.6,209.5 774.5,212.5" fill="none" stroke="#fb8c3c" stroke-width="1" stroke-linejoin="round" shape-rendering="crispEdges"/>
<line x1="69" y1="228.5" x2="846" y2="228.5" stroke="#1f86f0" stroke-width="1" stroke-dasharray="3 3" shape-rendering="crispEdges"/>
<g shape-rendering="crispEdges" fill="#111">
<rect x="192" y="399" width="7" height="1"/><rect x="194" y="397" width="1" height="4"/>
<rect x="662" y="157" width="7" height="1"/><rect x="664" y="155" width="1" height="4"/>
<rect x="752" y="251" width="7" height="1"/><rect x="754" y="249" width="1" height="4"/>
</g>
<polyline points="74.5,509.5 84.5,494.5 94.5,498.5 104.5,495.5 114.5,507.5 124.5,512.5 134.5,504.5 144.5,503.5 154.5,509.5 164.5,507.5 174.5,512.5 184.5,526.5 194.5,515.5 204.5,508.5 214.5,500.5 224.5,507.5 234.5,509.5 244.5,494.5 254.5,483.5 264.5,488.5 274.5,493.5 284.5,496.5 294.5,499.5 304.5,495.5 314.5,500.5 324.5,489.5 334.5,479.5 344.5,475.5 354.5,466.5 364.5,481.5 374.5,474.5 384.5,478.5 394.5,489.5 404.5,496.5 414.5,492.5 424.5,490.5 434.5,483.5 444.5,485.5 454.5,484.5 464.5,484.5 474.5,488.5 484.5,491.5 494.5,479.5 504.5,471.5 514.5,467.5 524.5,464.5 534.5,459.5 544.5,459.5 554.5,476.5 564.5,482.5 574.5,481.5 584.5,486.5 594.5,486.5 604.5,496.5 614.5,494.5 624.5,485.5 634.5,483.5 644.5,469.5 654.5,467.5 664.5,468.5 674.5,468.5 684.5,484.5 694.5,495.5 704.5,495.5 714.5,498.5 724.5,501.5 734.5,505.5 744.5,520.5 754.5,512.5 764.5,514.5 774.5,507.5" fill="none" stroke="#2aa5e0" stroke-width="1" stroke-linejoin="round" shape-rendering="crispEdges"/>
<g shape-rendering="crispEdges">
<rect x="74" y="638" width="1" height="17" fill="#53b987"/>
<rect x="84" y="638" width="1" height="7" fill="#53b987"/>
<rect x="94" y="638" width="1" height="4" fill="#53b987"/>
<rect x="104" y="636" width="1" height="3" fill="#e94f5e"/>
<rect x="114" y="638" width="1" height="6" fill="#53b987"/>
<rect x="124" y="638" width="1" height="14" fill="#53b987"/>
<rect x="134" y="638" width="1" height="12" fill="#53b987"/>
<rect x="144" y="638" width="1" height="11" fill="#53b987"/>
<rect x="154" y="638" width="1" height="14" fill="#53b987"/>
<rect x="164" y="638" width="1" height="13" fill="#53b987"/>
<rect x="174" y="638" width="1" height="16" fill="#53b987"/>
<rect x="184" y="638" width="1" height="28" fill="#53b987"/>
<rect x="194" y="638" width="1" height="28" fill="#53b987"/>
<rect x="204" y="638" width="1" height="21" fill="#53b987"/>
<rect x="214" y="638" width="1" height="10" fill="#53b987"/>
<rect x="224" y="638" width="1" height="8" fill="#53b987"/>
<rect x="234" y="638" width="1" height="7" fill="#53b987"/>
<rect x="244" y="632" width="1" height="7" fill="#e94f5e"/>
<rect x="254" y="614" width="1" height="25" fill="#e94f5e"/>
<rect x="264" y="609" width="1" height="30" fill="#e94f5e"/>
<rect x="274" y="610" width="1" height="29" fill="#e94f5e"/>
<rect x="284" y="614" width="1" height="25" fill="#e94f5e"/>
<rect x="294" y="619" width="1" height="20" fill="#e94f5e"/>
<rect x="304" y="620" width="1" height="19" fill="#e94f5e"/>
<rect x="314" y="625" width="1" height="14" fill="#e94f5e"/>
<rect x="324" y="622" width="1" height="17" fill="#e94f5e"/>
<rect x="334" y="612" width="1" height="27" fill="#e94f5e"/>
<rect x="344" y="603" width="1" height="36" fill="#e94f5e"/>
<rect x="354" y="591" width="1" height="48" fill="#e94f5e"/>
<rect x="364" y="594" width="1" height="45" fill="#e94f5e"/>
<rect x="374" y="592" width="1" height="47" fill="#e94f5e"/>
<rect x="384" y="597" width="1" height="42" fill="#e94f5e"/>
<rect x="394" y="609" width="1" height="30" fill="#e94f5e"/>
<rect x="404" y="624" width="1" height="15" fill="#e94f5e"/>
<rect x="414" y="631" width="1" height="8" fill="#e94f5e"/>
<rect x="424" y="635" width="1" height="4" fill="#e94f5e"/>
<rect x="434" y="633" width="1" height="6" fill="#e94f5e"/>
<rect x="444" y="634" width="1" height="5" fill="#e94f5e"/>
<rect x="454" y="634" width="1" height="5" fill="#e94f5e"/>
<rect x="464" y="635" width="1" height="4" fill="#e94f5e"/>
<rect x="474" y="638" width="1" height="1" fill="#53b987"/>
<rect x="484" y="638" width="1" height="5" fill="#53b987"/>
<rect x="494" y="638" width="1" height="1" fill="#53b987"/>
<rect x="504" y="630" width="1" height="9" fill="#e94f5e"/>
<rect x="514" y="623" width="1" height="16" fill="#e94f5e"/>
<rect x="524" y="617" width="1" height="22" fill="#e94f5e"/>
<rect x="534" y="609" width="1" height="30" fill="#e94f5e"/>
<rect x="544" y="608" width="1" height="31" fill="#e94f5e"/>
<rect x="554" y="616" width="1" height="23" fill="#e94f5e"/>
<rect x="564" y="627" width="1" height="12" fill="#e94f5e"/>
<rect x="574" y="633" width="1" height="6" fill="#e94f5e"/>
<rect x="584" y="638" width="1" height="4" fill="#53b987"/>
<rect x="594" y="638" width="1" height="10" fill="#53b987"/>
<rect x="604" y="638" width="1" height="19" fill="#53b987"/>
<rect x="614" y="638" width="1" height="23" fill="#53b987"/>
<rect x="624" y="638" width="1" height="20" fill="#53b987"/>
<rect x="634" y="638" width="1" height="18" fill="#53b987"/>
<rect x="644" y="638" width="1" height="7" fill="#53b987"/>
<rect x="654" y="636" width="1" height="3" fill="#e94f5e"/>
<rect x="664" y="632" width="1" height="7" fill="#e94f5e"/>
<rect x="674" y="631" width="1" height="8" fill="#e94f5e"/>
<rect x="684" y="637" width="1" height="2" fill="#e94f5e"/>
<rect x="694" y="638" width="1" height="9" fill="#53b987"/>
<rect x="704" y="638" width="1" height="16" fill="#53b987"/>
<rect x="714" y="638" width="1" height="20" fill="#53b987"/>
<rect x="724" y="638" width="1" height="24" fill="#53b987"/>
<rect x="734" y="638" width="1" height="28" fill="#53b987"/>
<rect x="744" y="638" width="1" height="37" fill="#53b987"/>
<rect x="754" y="638" width="1" height="37" fill="#53b987"/>
<rect x="764" y="638" width="1" height="37" fill="#53b987"/>
<rect x="774" y="638" width="1" height="33" fill="#53b987"/>
</g>
<polyline points="74.5,644.5 84.6,645.5 94.5,645.5 104.5,645.5 114.6,645.5 124.5,646.5 134.5,649.5 144.4,650.5 154.5,651.5 164.5,652.5 174.6,655.5 184.5,657.5 194.5,662.5 204.6,664.5 214.5,665.5 224.4,666.5 234.5,667.5 244.5,666.5 254.4,663.5 264.5,659.5 274.5,656.5 284.4,653.5 294.5,650.5 304.5,648.5 314.4,647.5 324.5,645.5 334.5,641.5 344.4,637.5 354.5,631.5 364.4,625.5 374.5,620.5 384.5,615.5 394.4,611.5 404.5,609.5 414.5,609.5 424.4,608.5 434.5,607.5 444.5,607.5 454.4,607.5 464.5,606.5 474.5,606.5 484.4,607.5 494.5,607.5 504.4,605.5 514.5,603.5 524.5,600.5 534.4,597.5 544.5,594.5 554.5,591.5 564.4,590.5 574.5,589.5 584.5,589.5 594.4,590.5 604.5,592.5 614.5,595.5 624.4,598.5 634.5,600.5 644.4,600.5 654.5,600.5 664.5,599.5 674.4,599.5 684.5,598.5 694.5,600.5 704.4,601.5 714.5,604.5 724.5,607.5 734.4,610.5 744.5,614.5 754.5,618.5 764.4,623.5 774.5,628.5" fill="none" stroke="#3cc27e" stroke-width="1" stroke-linejoin="round" shape-rendering="crispEdges"/>
<polyline points="74.5,654.5 84.6,648.5 94.5,647.5 104.5,644.5 114.6,647.5 124.5,653.5 134.5,655.5 144.4,654.5 154.5,657.5 164.5,659.5 174.6,662.5 184.5,672.5 194.5,674.5 204.6,674.5 214.5,670.5 224.4,669.5 234.5,670.5 244.5,662.5 254.4,652.5 264.5,645.5 274.5,642.5 284.4,641.5 294.5,641.5 304.5,639.5 314.4,640.5 324.5,638.5 334.5,630.5 344.4,620.5 354.5,608.5 364.4,604.5 374.5,598.5 384.5,594.5 394.4,596.5 404.5,601.5 414.5,605.5 424.4,607.5 434.5,605.5 444.5,605.5 454.4,605.5 464.5,605.5 474.5,606.5 484.4,609.5 494.5,607.5 504.4,601.5 514.5,595.5 524.5,589.5 534.4,584.5 544.5,579.5 554.5,580.5 564.4,584.5 574.5,587.5 584.5,591.5 594.4,596.5 604.5,601.5 614.5,606.5 624.4,607.5 634.5,608.5 644.4,604.5 654.5,599.5 664.5,596.5 674.4,595.5 684.5,597.5 694.5,604.5 704.4,609.5 714.5,613.5 724.5,617.5 734.4,622.5 744.5,632.5 754.5,637.5 764.4,641.5 774.5,644.5" fill="none" stroke="#2d89f3" stroke-width="1" stroke-linejoin="round" shape-rendering="crispEdges"/>
<text x="12.75" y="25.3" fill="#2c2c3c" font-size="12" font-weight="normal" textLength="51.83" lengthAdjust="spacing" >102.7313</text>
<text x="850.30" y="25.3" fill="#2c2c3c" font-size="12" font-weight="normal" textLength="51.55" lengthAdjust="spacing" >102.7313</text>
<text x="12.75" y="81.3" fill="#2c2c3c" font-size="12" font-weight="normal" textLength="52.28" lengthAdjust="spacing" >101.7530</text>
<text x="850.30" y="81.3" fill="#2c2c3c" font-size="12" font-weight="normal" textLength="51.40" lengthAdjust="spacing" >101.7530</text>
<text x="12.75" y="138.3" fill="#2c2c3c" font-size="12" font-weight="normal" textLength="52.27" lengthAdjust="spacing" >100.7747</text>
<text x="850.30" y="138.3" fill="#2c2c3c" font-size="12" font-weight="normal" textLength="51.86" lengthAdjust="spacing" >100.7747</text>
<text x="19.63" y="194.3" fill="#2c2c3c" font-size="12" font-weight="normal" textLength="45.42" lengthAdjust="spacing" >99.7964</text>
<text x="849.97" y="194.3" fill="#2c2c3c" font-size="12" font-weight="normal" textLength="44.71" lengthAdjust="spacing" >99.7964</text>
<text x="19.63" y="251.3" fill="#2c2c3c" font-size="12" font-weight="normal" textLength="45.26" lengthAdjust="spacing" >98.8181</text>
<text x="849.97" y="251.3" fill="#2c2c3c" font-size="12" font-weight="normal" textLength="44.81" lengthAdjust="spacing" >98.8181</text>
<text x="19.63" y="307.3" fill="#2c2c3c" font-size="12" font-weight="normal" textLength="45.20" lengthAdjust="spacing" >97.8398</text>
<text x="849.97" y="307.3" fill="#2c2c3c" font-size="12" font-weight="normal" textLength="44.91" lengthAdjust="spacing" >97.8398</text>
<text x="19.63" y="364.3" fill="#2c2c3c" font-size="12" font-weight="normal" textLength="45.20" lengthAdjust="spacing" >96.8615</text>
<text x="849.97" y="364.3" fill="#2c2c3c" font-size="12" font-weight="normal" textLength="44.92" lengthAdjust="spacing" >96.8615</text>
<text x="19.63" y="442.3" fill="#2c2c3c" font-size="12" font-weight="normal" textLength="45.14" lengthAdjust="spacing" >80.0000</text>
<text x="850.00" y="442.3" fill="#2c2c3c" font-size="12" font-weight="normal" textLength="44.77" lengthAdjust="spacing" >80.0000</text>
<text x="19.53" y="465.3" fill="#2c2c3c" font-size="12" font-weight="normal" textLength="45.26" lengthAdjust="spacing" >68.0000</text>
<text x="849.98" y="465.3" fill="#2c2c3c" font-size="12" font-weight="normal" textLength="44.80" lengthAdjust="spacing" >68.0000</text>
<text x="19.42" y="489.3" fill="#2c2c3c" font-size="12" font-weight="normal" textLength="45.47" lengthAdjust="spacing" >56.0000</text>
<text x="849.78" y="489.3" fill="#2c2c3c" font-size="12" font-weight="normal" textLength="45.01" lengthAdjust="spacing" >56.0000</text>
<text x="19.99" y="512.3" fill="#2c2c3c" font-size="12" font-weight="normal" textLength="44.72" lengthAdjust="spacing" >44.0000</text>
<text x="850.29" y="512.3" fill="#2c2c3c" font-size="12" font-weight="normal" textLength="44.43" lengthAdjust="spacing" >44.0000</text>
<text x="19.56" y="536.3" fill="#2c2c3c" font-size="12" font-weight="normal" textLength="45.31" lengthAdjust="spacing" >32.0000</text>
<text x="849.95" y="536.3" fill="#2c2c3c" font-size="12" font-weight="normal" textLength="44.82" lengthAdjust="spacing" >32.0000</text>
<text x="27.10" y="582.3" fill="#2c2c3c" font-size="12" font-weight="normal" textLength="37.62" lengthAdjust="spacing" >0.4528</text>
<text x="850.09" y="582.3" fill="#2c2c3c" font-size="12" font-weight="normal" textLength="37.79" lengthAdjust="spacing" >0.4528</text>
<text x="27.10" y="606.3" fill="#2c2c3c" font-size="12" font-weight="normal" textLength="37.39" lengthAdjust="spacing" >0.2684</text>
<text x="850.09" y="606.3" fill="#2c2c3c" font-size="12" font-weight="normal" textLength="37.45" lengthAdjust="spacing" >0.2684</text>
<text x="27.10" y="630.3" fill="#2c2c3c" font-size="12" font-weight="normal" textLength="37.75" lengthAdjust="spacing" >0.0841</text>
<text x="850.09" y="630.3" fill="#2c2c3c" font-size="12" font-weight="normal" textLength="37.35" lengthAdjust="spacing" >0.0841</text>
<text x="22.54" y="654.3" fill="#2c2c3c" font-size="12" font-weight="normal" textLength="42.16" lengthAdjust="spacing" >-0.1002</text>
<text x="849.97" y="654.3" fill="#2c2c3c" font-size="12" font-weight="normal" textLength="41.90" lengthAdjust="spacing" >-0.1002</text>
<text x="70" y="13.5" fill="#000" font-size="12" font-weight="500" text-anchor="start" >美元指数</text>
<text x="117.5" y="14" fill="#f77f1c" font-size="12" font-weight="normal" text-anchor="start" >【日线】</text>
<g fill="none" stroke="#f7891f" stroke-width="0.85"><circle cx="170.8" cy="11.6" r="4.1"/><line x1="166.5" y1="11.4" x2="175" y2="11.4"/><line x1="170.8" y1="7.2" x2="170.8" y2="15.6"/></g>
<rect x="183.5" y="1.5" width="11" height="12" fill="#fff" stroke="#000080" stroke-width="1"/>
<polyline points="184,8.5 187.4,4.6 190.5,7.4 192.5,5.3 194,5.3" fill="none" stroke="#f00" stroke-width="1"/>
<polyline points="184,11.6 187.4,7.6 190.5,10.5 192.5,8.3 194,8.3" fill="none" stroke="#00f" stroke-width="1"/>
<rect x="195" y="3" width="1" height="11.5" fill="#9a9a9a"/><rect x="184.5" y="14" width="11" height="1" fill="#9a9a9a"/>
<text x="197.51" y="14" fill="#111" font-size="12" font-weight="normal" textLength="127.33" lengthAdjust="spacing" >MA(20,50,100,200,0,0)</text>
<text x="329.20" y="14" fill="#2d89f3" font-size="12" font-weight="normal" textLength="81.82" lengthAdjust="spacing" >MA20:99.5244</text>
<text x="419.02" y="14" fill="#3cc27e" font-size="12" font-weight="normal" textLength="82.66" lengthAdjust="spacing" >MA50:99.1686</text>
<text x="509.02" y="14" fill="#30a9e6" font-size="12" font-weight="normal" textLength="89.09" lengthAdjust="spacing" >MA100:98.5937</text>
<text x="605.20" y="14" fill="#fb8c3c" font-size="12" font-weight="normal" textLength="88.98" lengthAdjust="spacing" >MA200:99.4381</text>
<text x="69.18" y="431" fill="#111" font-size="12" font-weight="normal" textLength="75.49" lengthAdjust="spacing" >RSI(14,14,14)</text>
<text x="148.38" y="431" fill="#2d89f3" font-size="12" font-weight="normal" textLength="75.41" lengthAdjust="spacing" >RSI1:45.7506</text>
<text x="230.38" y="431" fill="#3cc27e" font-size="12" font-weight="normal" textLength="75.41" lengthAdjust="spacing" >RSI2:45.7506</text>
<text x="312.58" y="431" fill="#30a9e6" font-size="12" font-weight="normal" textLength="75.46" lengthAdjust="spacing" >RSI3:45.7506</text>
<text x="394.96" y="431" fill="#aeaeae" font-size="12" font-weight="normal" textLength="68.68" lengthAdjust="spacing" >L20:20.0000</text>
<text x="470.69" y="431" fill="#aeaeae" font-size="12" font-weight="normal" textLength="68.97" lengthAdjust="spacing" >L30:30.0000</text>
<text x="546.68" y="431" fill="#aeaeae" font-size="12" font-weight="normal" textLength="68.67" lengthAdjust="spacing" >L50:50.0000</text>
<text x="622.38" y="431" fill="#aeaeae" font-size="12" font-weight="normal" textLength="68.75" lengthAdjust="spacing" >L70:70.0000</text>
<text x="698.18" y="431" fill="#aeaeae" font-size="12" font-weight="normal" textLength="68.96" lengthAdjust="spacing" >L80:80.0000</text>
<text x="69.82" y="571" fill="#111" font-size="12" font-weight="normal" textLength="86.70" lengthAdjust="spacing" >MACD(26,12,9)</text>
<text x="159.53" y="571" fill="#2d89f3" font-size="12" font-weight="normal" textLength="71.59" lengthAdjust="spacing" >DIFF:-0.0422</text>
<text x="239.61" y="571" fill="#3cc27e" font-size="12" font-weight="normal" textLength="64.80" lengthAdjust="spacing" >DEA:0.0799</text>
<text x="312.18" y="571" fill="#30a9e6" font-size="12" font-weight="normal" textLength="83.20" lengthAdjust="spacing" >MACD:-0.2441</text>
<g shape-rendering="crispEdges">
<g fill="#000"><rect x="5" y="560" width="4" height="1"/><rect x="5" y="567" width="4" height="1"/><rect x="3" y="562" width="1" height="4"/><rect x="10" y="562" width="1" height="4"/><rect x="4" y="561" width="1" height="1"/><rect x="9" y="561" width="1" height="1"/><rect x="4" y="566" width="1" height="1"/><rect x="9" y="566" width="1" height="1"/></g>
<g fill="#f00"><rect x="6" y="562" width="2" height="4"/><rect x="5" y="563" width="4" height="2"/><rect x="6" y="557" width="1" height="2"/><rect x="6" y="569" width="1" height="2"/><rect x="0" y="563" width="2" height="1"/><rect x="12" y="563" width="2" height="1"/><rect x="1" y="558" width="1" height="1"/><rect x="2" y="559" width="1" height="1"/><rect x="12" y="558" width="1" height="1"/><rect x="11" y="559" width="1" height="1"/><rect x="2" y="568" width="1" height="1"/><rect x="1" y="569" width="1" height="1"/><rect x="11" y="568" width="1" height="1"/><rect x="12" y="569" width="1" height="1"/></g>
</g>
<text x="75.92" y="688" fill="#222" font-size="12" font-weight="bold" textLength="44.88" lengthAdjust="spacing" >2025/09</text>
<rect x="74" y="676" width="1" height="5" fill="#b9c0c8"/>
<text x="295.93" y="688" fill="#222" font-size="12" font-weight="bold" textLength="45.17" lengthAdjust="spacing" >2025/10</text>
<rect x="294" y="676" width="1" height="5" fill="#b9c0c8"/>
<text x="525.73" y="688" fill="#222" font-size="12" font-weight="bold" textLength="44.30" lengthAdjust="spacing" >2025/11</text>
<rect x="524" y="676" width="1" height="5" fill="#b9c0c8"/>
<text x="725.38" y="688" fill="#222" font-size="12" font-weight="bold" textLength="45.62" lengthAdjust="spacing" >2025/12</text>
<rect x="724" y="676" width="1" height="5" fill="#b9c0c8"/>
<text x="12" y="691" fill="#f77f1c" font-size="12" font-weight="bold" text-anchor="start" >日线</text>
<polygon points="42.5,690.5 51.5,690.5 47,682" fill="#f77f1c"/>
<text x="668.84" y="153.5" fill="#e84a5f" font-size="12" font-weight="bold" textLength="51.69" lengthAdjust="spacing" >100.3900</text>
<text x="198.73" y="411" fill="#5ab996" font-size="12" font-weight="bold" textLength="45.44" lengthAdjust="spacing" >96.2109</text>
<text x="758.73" y="263" fill="#5ab996" font-size="12" font-weight="bold" textLength="45.40" lengthAdjust="spacing" >98.7650</text>
<rect x="847.5" y="228.5" width="67.5" height="16.5" fill="#fff" stroke="#ff7a0d" stroke-width="1.4"/>
<text x="849.18" y="240.5" fill="#ff7a0d" font-size="12" font-weight="normal" textLength="45.89" lengthAdjust="spacing" >99.1658</text>
<polygon points="911,220 907,224 915,224" fill="#ff7a0d"/><polygon points="909.5,224.6 912.5,224.6 915,228 907,228" fill="#ff7a0d"/>
<rect x="784.5" y="1.5" width="13" height="13" fill="#fff" stroke="#1f78d1" stroke-width="1" shape-rendering="crispEdges"/>
<rect x="800.5" y="1.5" width="13" height="13" fill="#fff" stroke="#1f78d1" stroke-width="1" shape-rendering="crispEdges"/>
<rect x="816.5" y="1.5" width="13" height="13" fill="#fff" stroke="#1f78d1" stroke-width="1" shape-rendering="crispEdges"/>
<rect x="832.5" y="1.5" width="13" height="13" fill="#fff" stroke="#1f78d1" stroke-width="1" shape-rendering="crispEdges"/>
<g fill="#1f78d1" shape-rendering="crispEdges"><rect x="790" y="3" width="2" height="3"/><rect x="790" y="7" width="2" height="2"/><rect x="790" y="10" width="2" height="3"/><rect x="786" y="7" width="3" height="2"/><rect x="793" y="7" width="3" height="2"/></g>
<g fill="#1f78d1" shape-rendering="crispEdges"><rect x="803" y="4" width="1" height="9"/><rect x="802" y="11" width="9" height="1"/><rect x="806" y="4" width="1" height="6"/></g>
<polygon points="801.8,5 803.5,3 805.2,5" fill="#1f78d1"/><polygon points="810,9.7 812.4,11.5 810,13.3" fill="#1f78d1"/><polygon points="810,4.2 810,8.8 807.2,6.5" fill="#1f78d1"/>
<g fill="#1f78d1" shape-rendering="crispEdges"><rect x="819" y="4" width="1" height="9"/><rect x="818" y="11" width="9" height="1"/></g>
<polygon points="817.8,5 819.5,3 821.2,5" fill="#1f78d1"/><polygon points="826,9.7 828.4,11.5 826,13.3" fill="#1f78d1"/><polygon points="822.2,4 822.2,10.6 827.2,7.3" fill="#1f78d1"/>
<rect x="834.5" y="3.5" width="3" height="9" fill="none" stroke="#1f78d1" stroke-width="1" shape-rendering="crispEdges"/>
<rect x="836" y="7" width="4.5" height="2" fill="#1f78d1" shape-rendering="crispEdges"/><polygon points="840,5 843.8,8 840,11" fill="#1f78d1"/>
<text x="788.3" y="669.5" font-size="32.5" fill="#9a7e62" fill-opacity="0.5">F</text>
<text x="787.3" y="668.5" font-size="32.5" fill="#d9e6f6">F</text>
<text x="809.7" y="669.5" font-size="32.5" fill="#9a7e62" fill-opacity="0.5">X</text>
<text x="808.7" y="668.5" font-size="32.5" fill="#d9e6f6">X</text>
<text x="832.1" y="669.5" font-size="32.5" fill="#9a7e62" fill-opacity="0.5">6</text>
<text x="831.1" y="668.5" font-size="32.5" fill="#d9e6f6">6</text>
<text x="852.1" y="669.5" font-size="32.5" fill="#9a7e62" fill-opacity="0.5">7</text>
<text x="851.1" y="668.5" font-size="32.5" fill="#d9e6f6">7</text>
<text x="871.7" y="669.5" font-size="32.5" fill="#9a7e62" fill-opacity="0.5">8</text>
<text x="870.7" y="668.5" font-size="32.5" fill="#d9e6f6">8</text>
</svg></body></html>
